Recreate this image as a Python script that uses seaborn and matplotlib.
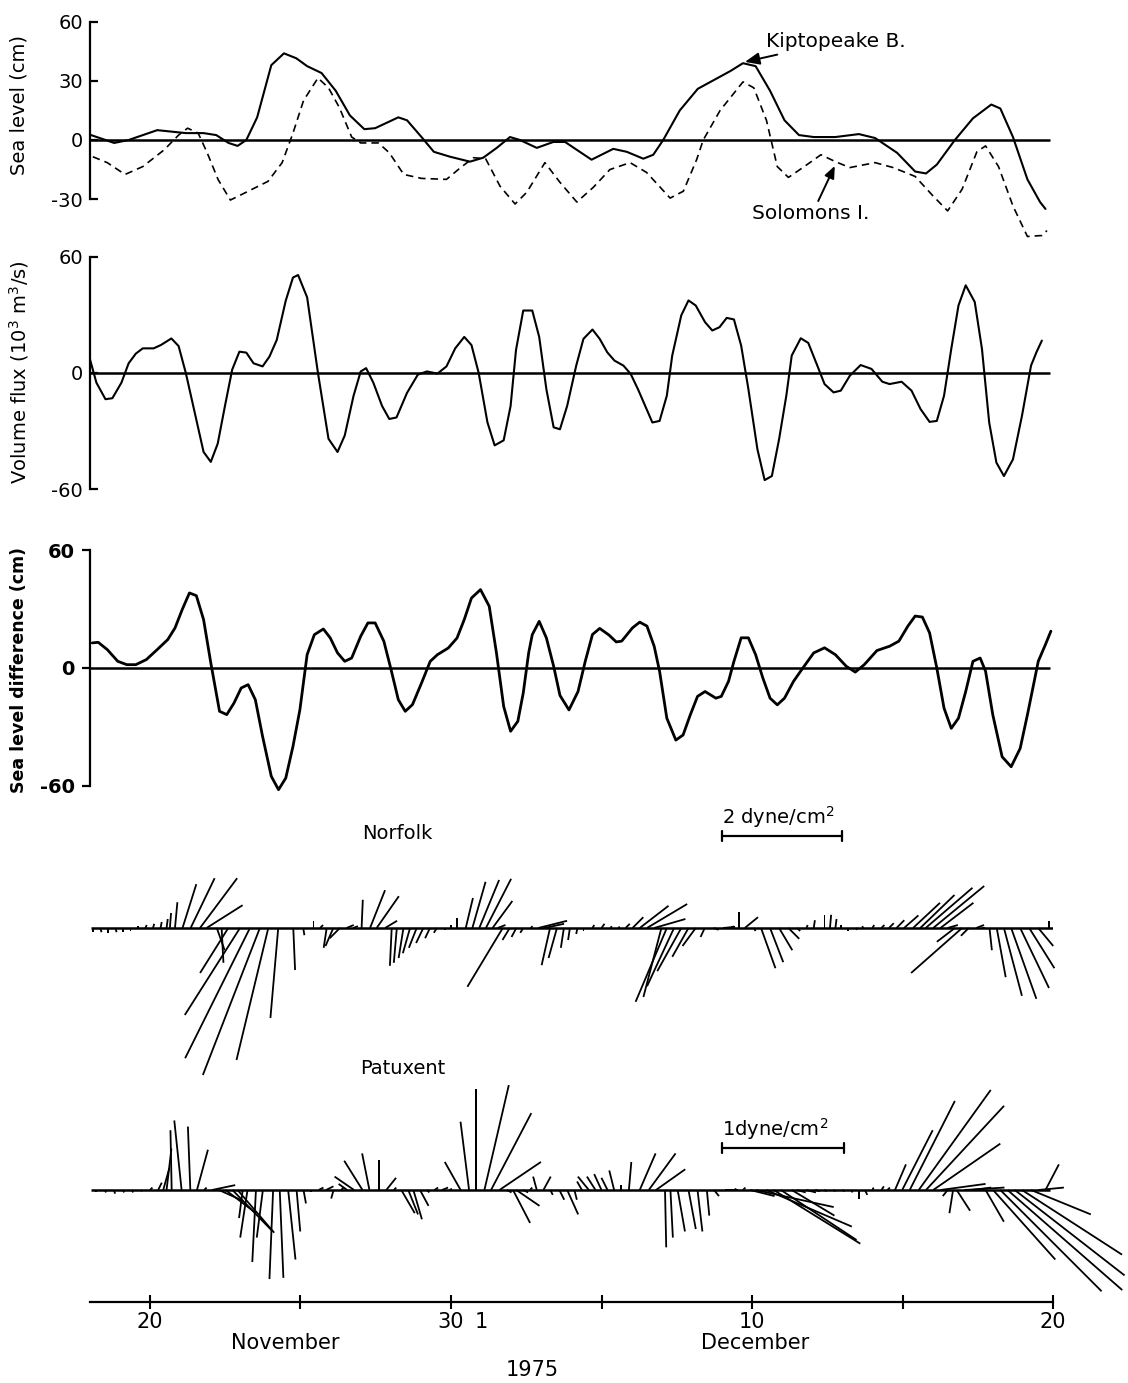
import numpy as np
import matplotlib
matplotlib.use("Agg")
import matplotlib.pyplot as plt
import seaborn as sns
from matplotlib import transforms
from matplotlib.lines import Line2D

# ---------------- data (days: 20 = 20 Nov 1975, 40 = 10 Dec 1975) ----------------
kip_day = [18.04, 18.81, 19.29, 20.24, 21.19, 21.78, 22.20, 22.61, 22.91, 23.20,
           23.56, 24.03, 24.45, 24.86, 25.22, 25.70, 26.17, 26.64, 27.12, 27.48,
           28.25, 28.54, 29.02, 29.43, 29.97, 30.63, 31.07, 31.52, 31.96, 32.29,
           32.85, 33.40, 33.79, 34.18, 34.67, 35.39, 35.84, 36.39, 36.72, 37.05,
           37.60, 38.20, 38.80, 39.28, 39.70, 40.12, 40.60, 41.08, 41.56, 42.05,
           42.77, 43.55, 44.09, 44.82, 45.42, 45.78, 46.14, 46.74, 47.34, 47.95,
           48.25, 48.67, 49.15, 49.57, 49.75]
kip_cm = [2.5, -1.5, 0, 5, 3.5, 3.5, 2.5, -1.5, -3, 0,
          11.5, 38, 44, 41.5, 37.5, 34, 25, 12.5, 5.5, 6,
          11.5, 10, 1.5, -6, -8.5, -11, -9, -4, 1.5, 0,
          -4, -1, -1, -5, -10, -4.5, -6, -9.5, -7.5, 0,
          15, 26, 31, 35, 39, 37.5, 25, 10, 2.5, 1.5,
          1.5, 3, 1, -6.5, -16, -17, -12.5, 0, 11, 18,
          16, 1.5, -20, -31.5, -35]

sol_day = [18.10, 18.58, 19.17, 19.76, 20.47, 20.95, 21.25, 21.60, 21.90, 22.26,
           22.67, 23.20, 23.92, 24.39, 24.75, 25.10, 25.58, 25.93, 26.29, 26.70,
           27.00, 27.59, 27.95, 28.43, 29.02, 29.85, 30.32, 30.75, 31.15, 31.63,
           32.13, 32.52, 33.12, 33.62, 34.18, 34.73, 35.28, 35.95, 36.50, 37.28,
           37.72, 38.16, 38.38, 38.94, 39.70, 40.06, 40.48, 40.84, 41.21, 41.69,
           42.29, 42.77, 43.25, 44.09, 44.69, 45.42, 46.02, 46.50, 46.98, 47.47,
           47.76, 48.19, 48.67, 49.15, 49.63, 49.80]
sol_cm = [-8.5, -11.5, -17.5, -13.5, -5, 2.5, 6, 3.5, -6.5, -20,
          -30.5, -26.5, -21, -11.5, 3.5, 20, 31.5, 26.5, 16.5, 1.5,
          -1.5, -1.5, -6.5, -17.5, -19.5, -20, -14, -9, -9.5, -23.5,
          -32.5, -26.5, -11.5, -21.5, -31.5, -24, -15, -11.5, -16.5, -29.5,
          -26, -10, 0, 15, 29.5, 26.5, 10, -13.5, -19, -14,
          -7.5, -11, -14, -11.5, -14, -18.5, -28.5, -36, -25, -6,
          -3, -13.5, -33.5, -49, -48.5, -46]

flux_day = [17.98, 18.22, 18.52, 18.75, 19.05, 19.29, 19.53, 19.76, 20.12, 20.36,
            20.71, 20.95, 21.19, 21.48, 21.78, 22.02, 22.25, 22.49, 22.73, 22.97,
            23.20, 23.44, 23.74, 23.97, 24.21, 24.51, 24.75, 24.92, 25.22, 25.58,
            25.93, 26.23, 26.47, 26.76, 27.00, 27.18, 27.42, 27.71, 27.95, 28.19,
            28.54, 28.90, 29.20, 29.55, 29.85, 30.14, 30.44, 30.68, 30.92, 31.21,
            31.45, 31.75, 31.98, 32.16, 32.40, 32.70, 32.93, 33.17, 33.41, 33.62,
            33.86, 34.16, 34.40, 34.70, 34.94, 35.19, 35.43, 35.73, 35.97, 36.21,
            36.45, 36.69, 36.93, 37.17, 37.35, 37.65, 37.89, 38.13, 38.44, 38.68,
            38.92, 39.16, 39.40, 39.64, 39.88, 40.18, 40.42, 40.66, 40.90, 41.14,
            41.32, 41.62, 41.87, 42.17, 42.41, 42.71, 42.95, 43.25, 43.61, 43.97,
            44.33, 44.57, 44.97, 45.30, 45.60, 45.90, 46.14, 46.38, 46.62, 46.86,
            47.10, 47.40, 47.64, 47.88, 48.12, 48.37, 48.67, 48.97, 49.27, 49.45,
            49.63]
flux_val = [8.5, -5, -13.5, -13, -5, 5, 10, 12.7, 12.7, 14.4,
            17.8, 13.9, 0, -20, -40.7, -45.8, -36.4, -17, 1.7, 11,
            10.5, 5, 3.4, 8.5, 17, 37.3, 49.2, 50.5, 39, 0,
            -33.9, -40.7, -32.2, -11.9, 0.8, 2.5, -5, -17, -23.7, -22.9,
            -10.2, -0.8, 0.8, -0.3, 3.4, 12.7, 18.6, 14.4, 0, -25.4,
            -37.3, -34.7, -17, 11.9, 32.2, 32.2, 18.6, -8.5, -28, -29,
            -16.9, 3.8, 17.6, 22.4, 17.6, 10.7, 6.4, 3.8, -0.5, -8.3,
            -16.9, -25.5, -24.7, -11.7, 9, 29.7, 37.4, 34.8, 26.2, 21.9,
            23.6, 28.4, 27.6, 14.1, -8.3, -39.3, -55.2, -53.1, -34.1, -11.7,
            9, 17.9, 15.5, 3.8, -5.7, -10, -9.1, -1.4, 4.1, 2.1,
            -4.5, -5.7, -4.5, -9.1, -18.6, -25.2, -24.7, -11.7, 12.4, 34.8,
            45.2, 36.6, 12.4, -25.5, -46.2, -53.1, -44.5, -22, 3.8, 10.7,
            16.7]

diff_day = [18.08, 18.28, 18.58, 18.93, 19.23, 19.53, 19.88, 20.24, 20.59, 20.83,
            21.07, 21.31, 21.54, 21.78, 22.02, 22.31, 22.55, 22.79, 23.03, 23.26,
            23.50, 23.74, 24.03, 24.27, 24.51, 24.75, 24.98, 25.22, 25.46, 25.76,
            25.99, 26.23, 26.47, 26.70, 27.00, 27.24, 27.48, 27.77, 28.01, 28.25,
            28.48, 28.72, 29.02, 29.31, 29.55, 29.91, 30.20, 30.44, 30.68, 30.98,
            31.27, 31.51, 31.75, 31.98, 32.22, 32.40, 32.58, 32.70, 32.93, 33.17,
            33.41, 33.62, 33.92, 34.22, 34.46, 34.70, 34.94, 35.25, 35.49, 35.67,
            36.03, 36.27, 36.51, 36.75, 36.93, 37.17, 37.47, 37.71, 37.95, 38.19,
            38.44, 38.80, 38.98, 39.22, 39.40, 39.64, 39.88, 40.12, 40.36, 40.60,
            40.84, 41.08, 41.38, 41.69, 42.05, 42.41, 42.77, 43.13, 43.43, 43.73,
            44.15, 44.57, 44.88, 45.18, 45.42, 45.66, 45.90, 46.14, 46.38, 46.62,
            46.86, 47.10, 47.34, 47.58, 47.76, 48.00, 48.31, 48.61, 48.91, 49.15,
            49.33, 49.51, 49.75, 49.93]
diff_cm = [12.8, 13.1, 9.4, 3.4, 1.7, 1.7, 4.3, 9.4, 14.5, 20.4,
           29.8, 38.3, 36.9, 24.7, 2.6, -22.1, -23.8, -17.9, -10.2, -8.5,
           -16.2, -34.9, -55.3, -62.1, -56.2, -40, -21.3, 6.8, 17, 19.9,
           15.3, 7.7, 3.4, 5.1, 16.2, 23, 23, 13.6, -0.9, -16.2,
           -22.1, -18.7, -7.7, 3.4, 6.8, 10.2, 15.3, 24.7, 35.7, 40,
           31.5, 7.7, -19.6, -32.3, -27.2, -12.8, 7.7, 17, 23.8, 15.3,
           0.9, -14, -21.4, -12, 3.4, 17.1, 20.2, 16.8, 13.3, 13.7,
           20.5, 23.4, 21.4, 11.1, -1.7, -25.6, -36.8, -34.2, -23.9, -14.5,
           -12, -15.4, -14.5, -6.8, 3.4, 15.4, 15.4, 6.8, -5.1, -15.4,
           -18.8, -15.4, -6.8, 0, 7.7, 10.3, 6.8, 0.9, -2.1, 1.7,
           8.9, 11.1, 13.7, 21.4, 26.5, 26, 17.9, 0, -20.5, -30.8,
           -25.6, -12, 3.4, 5.1, -1.7, -23.9, -45.3, -50.4, -41, -23.9,
           -10.3, 3.4, 12, 18.8]

# wind stress (dyne/cm^2), east (u) and north (v) components
nor_day = [18.10, 18.35, 18.60, 18.85, 19.10, 19.35, 19.60, 19.85, 20.10, 20.35,
           20.55, 20.66, 20.83, 21.08, 21.35, 21.66, 21.88, 22.22, 22.38, 22.60,
           22.99, 23.32, 23.65, 23.93, 24.26, 24.76, 25.09, 25.43, 25.65, 25.87,
           26.09, 26.31, 26.53, 26.75, 27.03, 27.31, 27.53, 27.81, 28.03, 28.20,
           28.42, 28.64, 28.86, 29.08, 29.30, 29.53, 29.80, 30.00, 30.21, 30.49,
           30.71, 30.94, 31.16, 31.38, 31.55, 31.72, 31.95, 32.17, 32.40, 32.65,
           32.90, 33.10, 33.29, 33.52, 33.75, 33.95, 34.20, 34.40, 34.70, 35.00,
           35.30, 35.55, 35.80, 36.03, 36.27, 36.51, 36.75, 36.99, 37.17, 37.41,
           37.65, 37.89, 38.13, 38.43, 38.73, 39.04, 39.30, 39.58, 39.76, 40.06,
           40.30, 40.60, 40.90, 41.21, 41.50, 41.81, 42.05, 42.41, 42.59, 42.77,
           42.95, 43.20, 43.45, 43.70, 44.00, 44.30, 44.55, 44.80, 45.05, 45.35,
           45.59, 45.77, 46.02, 46.26, 46.50, 46.74, 46.98, 47.20, 47.45, 47.65,
           47.89, 48.13, 48.37, 48.61, 48.91, 49.21, 49.51, 49.87]
nor_u = [0.00, 0.02, 0.00, 0.02, 0.00, 0.00, 0.00, 0.02, 0.02, 0.02,
         0.02, 0.02, 0.04, 0.23, 0.40, 0.62, 0.60, 0.13, 0.03, -0.47,
         -0.92, -1.08, -0.95, -0.53, -0.13, 0.03, 0.02, 0.00, 0.05, -0.05,
         -0.13, -0.17, 0.12, 0.08, 0.02, 0.25, 0.37, 0.20, -0.03, -0.05,
         -0.08, -0.12, -0.13, -0.12, -0.08, -0.05, 0.00, 0.00, 0.00, 0.12,
         0.22, 0.33, 0.42, 0.33, 0.13, -0.59, -0.12, -0.08, -0.05, 0.03,
         0.48, 0.33, -0.14, -0.14, -0.05, -0.03, -0.02, 0.00, 0.03, 0.05,
         0.02, 0.03, 0.07, 0.18, 0.48, 0.67, 0.52, -0.30, -0.52, -0.45,
         -0.40, -0.27, -0.22, -0.07, 0.08, 0.20, 0.05, 0.00, 0.22, 0.03,
         0.24, 0.22, 0.22, 0.18, 0.05, 0.02, 0.02, 0.00, 0.02, 0.02,
         0.00, 0.00, 0.02, -0.02, 0.03, 0.05, 0.08, 0.13, 0.24, 0.45,
         0.57, 0.78, 0.85, 0.55, 0.17, -0.30, -0.85, -0.13, 0.13, 0.05,
         0.04, 0.15, 0.30, 0.42, 0.48, 0.42, 0.25, 0.00]
nor_v = [-0.07, -0.07, -0.08, -0.07, -0.07, -0.05, 0.03, 0.05, 0.07, 0.10,
         0.15, 0.25, 0.43, 0.73, 0.83, 0.83, 0.38, -0.37, -0.58, -0.75,
         -1.45, -2.17, -2.45, -2.20, -1.50, -0.70, -0.12, 0.12, 0.05, -0.33,
         -0.30, -0.17, 0.05, 0.03, 0.47, 0.63, 0.53, 0.12, -0.63, -0.58,
         -0.50, -0.42, -0.33, -0.25, -0.17, -0.08, -0.03, 0.05, 0.17, 0.50,
         0.77, 0.80, 0.82, 0.45, 0.05, -0.98, -0.20, -0.15, -0.08, 0.03,
         0.12, 0.07, -0.62, -0.50, -0.33, -0.20, -0.10, -0.05, 0.05, 0.07,
         0.03, 0.02, 0.07, 0.18, 0.37, 0.40, 0.15, -1.15, -1.23, -0.97,
         -0.72, -0.48, -0.30, -0.15, -0.03, 0.02, 0.03, 0.27, 0.18, -0.05,
         -0.67, -0.57, -0.37, -0.18, -0.05, 0.05, 0.13, 0.22, 0.22, 0.15,
         0.05, -0.05, -0.03, 0.03, 0.05, 0.05, 0.08, 0.13, 0.21, 0.42,
         0.55, 0.67, 0.70, 0.42, 0.05, -0.23, -0.75, -0.13, 0.05, 0.00,
         -0.37, -0.82, -1.13, -1.18, -1.00, -0.67, -0.30, 0.12]

pat_day = [18.20, 18.50, 18.80, 19.10, 19.40, 19.70, 20.00, 20.27, 20.44, 20.55,
           20.72, 21.05, 21.34, 21.56, 21.80, 22.06, 22.29, 22.51, 22.74, 22.91,
           23.08, 23.24, 23.52, 23.75, 24.09, 24.31, 24.59, 24.87, 25.10, 25.35,
           25.60, 25.85, 26.10, 26.35, 26.55, 26.78, 27.06, 27.29, 27.62, 27.85,
           28.10, 28.35, 28.58, 28.75, 28.97, 29.20, 29.45, 29.70, 29.95, 30.32,
           30.60, 30.82, 31.11, 31.33, 31.61, 31.85, 32.06, 32.17, 32.40, 32.62,
           32.85, 33.07, 33.30, 33.60, 33.86, 34.10, 34.35, 34.58, 34.80, 35.00,
           35.20, 35.42, 35.65, 35.91, 36.27, 36.57, 36.81, 37.11, 37.29, 37.53,
           37.89, 38.19, 38.50, 38.74, 39.10, 39.40, 39.70, 39.94, 40.12, 40.48,
           40.72, 40.96, 41.32, 41.50, 41.80, 42.10, 42.40, 42.70, 43.00, 43.30,
           43.55, 43.75, 44.00, 44.30, 44.50, 44.75, 44.99, 45.24, 45.54, 45.78,
           46.02, 46.26, 46.50, 46.68, 46.80, 47.05, 47.30, 47.55, 47.76, 48.01,
           48.25, 48.49, 48.73, 48.97, 49.27, 49.51, 49.75]
pat_u = [0.00, 0.01, 0.01, 0.01, 0.01, 0.01, 0.02, 0.03, 0.05, 0.04,
         -0.01, -0.06, -0.02, 0.09, 0.02, 0.19, 0.20, 0.25, 0.33, 0.30,
         -0.03, -0.06, -0.03, -0.05, -0.03, 0.03, 0.06, 0.03, 0.02, 0.00,
         0.04, 0.06, -0.02, 0.02, -0.07, -0.16, -0.15, -0.06, 0.00, 0.08,
         0.02, 0.11, 0.08, 0.07, 0.07, 0.02, 0.03, 0.05, 0.02, -0.13,
         -0.07, 0.00, 0.20, 0.33, 0.34, 0.04, 0.14, 0.19, 0.04, 0.02,
         -0.03, 0.06, 0.02, 0.04, 0.09, 0.02, -0.04, -0.09, -0.07, -0.06,
         -0.05, -0.04, 0.00, 0.02, 0.13, 0.22, 0.24, 0.01, 0.02, 0.06,
         0.06, 0.04, 0.02, 0.04, 0.11, 0.02, 0.02, 0.20, 0.64, 0.70,
         0.71, 0.62, 0.35, 0.07, 0.08, 0.04, 0.02, 0.02, 0.02, 0.01,
         0.00, 0.02, 0.01, 0.02, 0.02, 0.09, 0.25, 0.37, 0.59, 0.64,
         0.55, 0.37, -0.04, -0.03, 0.11, 0.33, 0.16, 0.04, 0.15, 0.51,
         0.83, 0.94, 0.90, 0.82, 0.49, 0.21, 0.11]
pat_v = [-0.02, -0.02, -0.03, -0.02, -0.02, -0.01, 0.02, 0.06, 0.18, 0.34,
         0.49, 0.57, 0.52, 0.33, 0.02, 0.04, -0.09, -0.19, -0.34, -0.35,
         -0.23, -0.39, -0.59, -0.39, -0.73, -0.72, -0.57, -0.34, -0.11, -0.02,
         0.02, 0.03, -0.07, 0.02, 0.05, 0.11, 0.24, 0.30, 0.25, 0.10,
         0.02, -0.19, -0.20, -0.24, -0.13, -0.02, 0.02, 0.02, 0.01, 0.23,
         0.56, 0.83, 0.86, 0.63, 0.23, -0.02, -0.27, -0.13, -0.02, 0.02,
         0.11, 0.11, -0.04, -0.08, -0.20, -0.08, 0.07, 0.11, 0.11, 0.13,
         0.10, 0.16, 0.04, 0.23, 0.30, 0.30, 0.17, -0.47, -0.39, -0.34,
         -0.32, -0.34, -0.21, -0.05, 0.00, 0.01, 0.02, -0.05, -0.14, -0.30,
         -0.44, -0.41, -0.21, -0.02, -0.02, -0.01, -0.01, -0.01, -0.01, -0.02,
         -0.07, -0.04, 0.02, 0.03, 0.02, 0.21, 0.49, 0.73, 0.82, 0.69,
         0.38, 0.05, -0.05, -0.19, -0.17, 0.02, 0.02, 0.00, -0.26, -0.57,
         -0.83, -0.82, -0.70, -0.53, -0.20, 0.02, 0.21]

sea_ticks = [-30, 0, 30, 60]
flux_ticks = [-60, 0, 60]
diff_ticks = [-60, 0, 60]
date_ticks = [20, 25, 30, 35, 40, 45, 50]
date_labels = ["20", "", "30", "", "10", "", "20"]

# ---------------- style ----------------
sns.set_theme(style="white", rc={"axes.edgecolor": "black", "text.color": "black",
                                 "axes.labelcolor": "black", "xtick.color": "black",
                                 "ytick.color": "black"})
plt.rcParams["font.family"] = ["DejaVu Sans"]

W, H, DPI = 1128, 1383, 100
fig = plt.figure(figsize=(W / DPI, H / DPI), dpi=DPI)
fig.patch.set_facecolor("white")

XL, XR = 89.8, 1053.0
XLIM = (18.0, 50.0)


def axes_px(top, bottom):
    ax = fig.add_axes([XL / W, 1 - bottom / H, (XR - XL) / W, (bottom - top) / H])
    ax.patch.set_alpha(0)
    return ax


def finish_line_panel(ax, ylim, ticks, tickdir, bold=False):
    ax.set_xlim(*XLIM)
    ax.set_ylim(*ylim)
    ax.set(xlabel="", ylabel="")
    for s in ("top", "right", "bottom"):
        ax.spines[s].set_visible(False)
    ax.spines["left"].set_bounds(ticks[0], ticks[-1])
    ax.spines["left"].set_linewidth(1.6)
    ax.set_yticks(ticks)
    ax.set_yticklabels([str(t) for t in ticks], fontweight="bold" if bold else "normal")
    ax.tick_params(axis="y", left=True, direction=tickdir, length=6, width=1.6,
                   labelsize=14, pad=5)
    ax.set_xticks([])
    ax.hlines(0, XLIM[0], 49.9, color="black", lw=1.8)


# Panel 1: sea level
ax1 = axes_px(17.9, 242.4)
sns.lineplot(x=kip_day, y=kip_cm, ax=ax1, color="black", lw=1.5, errorbar=None)
sns.lineplot(x=sol_day, y=sol_cm, ax=ax1, color="black", lw=1.2,
             linestyle=(0, (4.5, 3)), errorbar=None)
finish_line_panel(ax1, (-52, 62), sea_ticks, "in")
ax1.annotate("Kiptopeake B.", xy=(39.72, 39.5), xytext=(40.45, 50), ha="left", va="center",
             fontsize=14.5, arrowprops=dict(arrowstyle="-|>,head_length=0.6,head_width=0.25",
                                            color="black", lw=1.4, shrinkA=1, shrinkB=1))
ax1.annotate("", xy=(42.77, -12.5), xytext=(42.2, -31),
             arrowprops=dict(arrowstyle="-|>,head_length=0.6,head_width=0.25",
                             color="black", lw=1.4, shrinkA=0, shrinkB=1))
ax1.text(40.0, -37.5, "Solomons I.", ha="left", va="center", fontsize=14.5)

# Panel 2: volume flux
ax2 = axes_px(252.7, 493.3)
sns.lineplot(x=flux_day, y=flux_val, ax=ax2, color="black", lw=1.5, errorbar=None)
finish_line_panel(ax2, (-62, 62), flux_ticks, "in")

# Panel 3: sea level difference
ax3 = axes_px(546.5, 793.4)
sns.lineplot(x=diff_day, y=diff_cm, ax=ax3, color="black", lw=2.0, errorbar=None)
finish_line_panel(ax3, (-64, 62), diff_ticks, "out", bold=True)

fig.text(19 / W, 1 - 105 / H, "Sea level (cm)", rotation=90, ha="center", va="center",
         fontsize=14)
fig.text(19 / W, 1 - 372 / H, "Volume flux (10$^3$ m$^3$/s)", rotation=90, ha="center",
         va="center", fontsize=14)
fig.text(19 / W, 1 - 670 / H, "Sea level difference (cm)", rotation=90, ha="center",
         va="center", fontsize=12.5, fontweight="bold")


# Stick plots
def stick_panel(top, bottom, days, u, v, inch_per_unit, end):
    ax = axes_px(top, bottom)
    ax.set_xlim(*XLIM)
    ax.set_ylim(-1, 1)
    for s in ax.spines.values():
        s.set_visible(False)
    ax.set_yticks([])
    ax.set_xticks([])
    ax.hlines(0, 18.05, end, color="black", lw=1.8)
    q = ax.quiver(days, np.zeros(len(days)), u, v, angles="uv", scale_units="inches",
                  scale=1.0 / inch_per_unit, units="dots", width=1.8, headwidth=0,
                  headlength=0, headaxislength=0, minlength=0, pivot="tail", color="black")
    q.set_clip_on(False)
    return ax


NOR_IN = 0.60   # inches per dyne/cm^2
PAT_IN = 1.22

ax4 = stick_panel(880, 976, nor_day, nor_u, nor_v, NOR_IN, 50.0)
ax5 = stick_panel(1078, 1302, pat_day, pat_u, pat_v, PAT_IN, 49.9)

ax5.spines["bottom"].set_visible(True)
ax5.spines["bottom"].set_linewidth(1.6)
ax5.set_xticks(date_ticks)
ax5.set_xticklabels(date_labels)
ax5.set_xticks([31], labels=["1"], minor=True)
ax5.tick_params(axis="x", which="major", bottom=True, direction="inout", length=10,
                width=1.5, labelsize=15, pad=2)
ax5.tick_params(axis="x", which="minor", bottom=True, length=0, labelsize=15, pad=7)

bt = transforms.blended_transform_factory(ax5.transData, fig.transFigure)
ax5.text(24.5, 1 - 1343 / H, "November", transform=bt, ha="center", va="center", fontsize=15)
ax5.text(40.1, 1 - 1343 / H, "December", transform=bt, ha="center", va="center", fontsize=15)
ax5.text(32.7, 1 - 1370 / H, "1975", transform=bt, ha="center", va="center", fontsize=15)
ax4.text(28.2, 1 - 834 / H, "Norfolk", transform=bt, ha="center", va="center", fontsize=14)
ax4.text(28.4, 1 - 1068 / H, "Patuxent", transform=bt, ha="center", va="center", fontsize=14)


def scale_bar(ax, day0, y_px, value, inch_per_unit, label, text_dy_px):
    x0 = ax.transData.transform((day0, 0))[0] / DPI
    y = (H - y_px) / DPI
    L = value * inch_per_unit
    fig.add_artist(Line2D([x0, x0 + L], [y, y], transform=fig.dpi_scale_trans,
                          color="black", lw=1.6))
    for xx in (x0, x0 + L):
        fig.add_artist(Line2D([xx, xx], [y - 0.05, y + 0.05], transform=fig.dpi_scale_trans,
                              color="black", lw=1.6))
    fig.text(x0, y + text_dy_px / DPI, label, transform=fig.dpi_scale_trans, ha="left",
             va="bottom", fontsize=14)


scale_bar(ax4, 39.0, 836, 2, NOR_IN, "2 dyne/cm$^2$", 6)
scale_bar(ax5, 39.0, 1148, 1, PAT_IN, "1dyne/cm$^2$", 6)

fig.savefig("out.png", dpi=DPI, facecolor="white")
